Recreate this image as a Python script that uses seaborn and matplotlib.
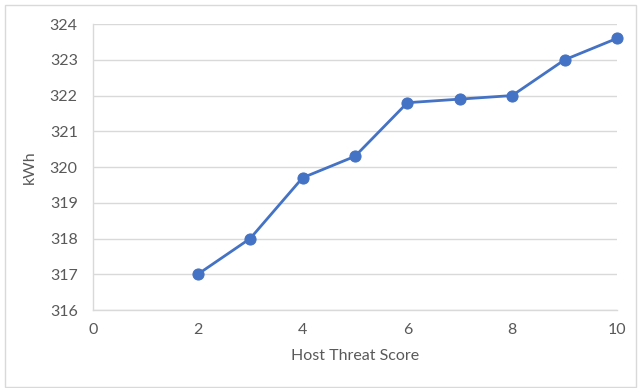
import matplotlib
matplotlib.use("Agg")
import matplotlib.pyplot as plt
from matplotlib.patches import Rectangle
import seaborn as sns
import pandas as pd

# Energy use by host threat score
threat_score = [2, 3, 4, 5, 6, 7, 8, 9, 10]
kwh = [317.0, 318.0, 319.7, 320.3, 321.8, 321.9, 322.0, 323.0, 323.6]
x_ticks = [0, 2, 4, 6, 8, 10]
y_ticks = [316, 317, 318, 319, 320, 321, 322, 323, 324]

df = pd.DataFrame({"Host Threat Score": threat_score, "kWh": kwh})

sns.set_theme(style="white")
plt.rcParams["font.family"] = ["Lato", "DejaVu Sans"]

fig = plt.figure(figsize=(6.39, 3.88), dpi=100)
ax = fig.add_axes([0.1455, 0.201, 0.8201, 0.737])

blue = "#4472C4"
sns.lineplot(data=df, x="Host Threat Score", y="kWh", ax=ax, color=blue,
             linewidth=2.0, marker="o", markersize=8,
             markeredgecolor=blue, markerfacecolor=blue, zorder=3,
             clip_on=False)

ax.set_xlim(0, 10)
ax.set_ylim(316, 324)
ax.set_xticks(x_ticks)
ax.set_yticks(y_ticks)
ax.yaxis.grid(True, color="#D9D9D9", linewidth=1.0)
ax.xaxis.grid(False)

for side in ["top", "right"]:
    ax.spines[side].set_visible(False)
for side in ["left", "bottom"]:
    ax.spines[side].set_color("#D9D9D9")
    ax.spines[side].set_linewidth(1.0)

ax.tick_params(axis="both", length=0, labelsize=11.5, colors="#595959")
ax.tick_params(axis="x", pad=9)
ax.tick_params(axis="y", pad=11)

ax.set_xlabel("Host Threat Score", fontsize=11.5, color="#595959", labelpad=9)
ax.set_ylabel("kWh", fontsize=11.5, color="#595959", labelpad=9)

# light frame round the whole chart
fig.patches.append(Rectangle((5 / 639, 1 / 388), 631 / 639, 382 / 388,
                             transform=fig.transFigure, fill=False,
                             edgecolor="#D9D9D9", linewidth=1.0))

fig.savefig("out.png", dpi=100, facecolor="white")
